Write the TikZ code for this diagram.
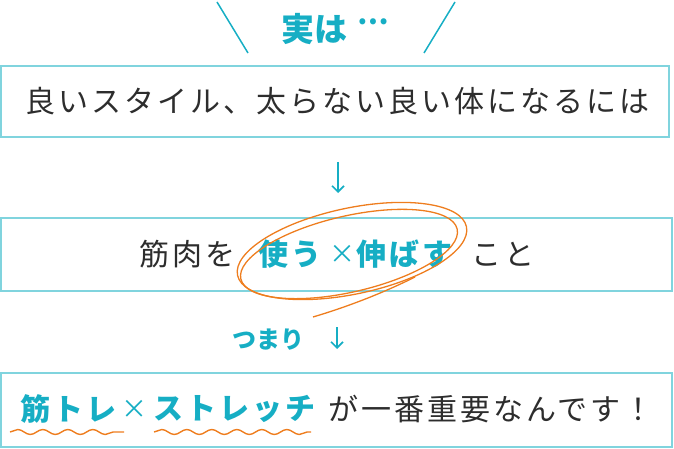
\documentclass[tikz,border=0pt]{standalone}
\usepackage{fontspec}
\usetikzlibrary{arrows.meta,decorations.pathmorphing}
\setmainfont{Noto Sans CJK JP}
\newfontfamily\jp[LetterSpace=10]{Noto Sans CJK JP}
\newfontfamily\jph{Noto Sans CJK JP}
\definecolor{boxc}{RGB}{128,212,222}
\definecolor{cyantx}{RGB}{22,174,196}
\definecolor{orng}{RGB}{238,125,30}
\definecolor{blk}{RGB}{45,45,45}
\begin{document}
\begin{tikzpicture}[x=1pt,y=-1pt,
  box/.style={draw=boxc, line width=2pt, inner sep=0pt},
  txt/.style={inner sep=0pt, anchor=west, text=blk, font=\jp\fontsize{30pt}{34pt}\selectfont},
  ctxt/.style={inner sep=0pt, anchor=west, text=cyantx, font=\jp\bfseries\fontsize{30pt}{34pt}\selectfont},
  cross/.style={inner sep=0pt, text=cyantx, font=\jph\fontsize{26pt}{30pt}\selectfont},
  hand/.style={inner sep=0pt, text=cyantx, font=\jph\bfseries\fontsize{33pt}{36pt}\selectfont},
  arr/.style={draw=cyantx, line width=1.6pt, -{Straight Barb[length=6pt,width=12pt,line width=1.6pt]}},
  wave/.style={draw=orng, line width=1.4pt, decorate, decoration={snake, segment length=25pt, amplitude=2.5pt}},
  loop/.style={draw=orng, line width=1.3pt}]
\useasboundingbox (0,0) rectangle (674,449);
% boxes
\node[box, minimum width=668pt, minimum height=71pt] (b1) at (335,101.5) {};
\node[box, minimum width=671pt, minimum height=73pt] (b2) at (336.5,254.5) {};
\node[box, minimum width=671pt, minimum height=74pt] (b3) at (336.5,410) {};
% top
\coordinate (l1a) at (217,2); \coordinate (l1b) at (248,53);
\coordinate (l2a) at (455,2); \coordinate (l2b) at (424,53);
\draw[draw=cyantx, line width=1.5pt] (l1a) -- (l1b);
\draw[draw=cyantx, line width=1.5pt] (l2a) -- (l2b);
\node[hand, anchor=base west] (jitsu) at (281,42) {実は\hspace{10pt}\raisebox{17pt}{\fontsize{28pt}{30pt}\selectfont …}};
% line 1
\node[txt] (t1) at (25,101) {良いスタイル、太らない良い体になるには};
% arrow 1
\coordinate (a1s) at (338,162); \coordinate (a1e) at (338,193);
\draw[arr] (a1s) -- (a1e);
% line 2
\node[txt] (t2a) at (139,254) {筋肉を};
\node[ctxt] (t2b) at (258,254) {使う};
\node[cross] (t2x) at (342,254) {×};
\node[ctxt] (t2d) at (356,254) {伸ばす};
\node[txt] (t2c) at (471,254) {こと};
% circle
\draw[loop, rotate around={12:(352,251)}] (352,251) ellipse [x radius=117, y radius=43];
\draw[loop, rotate around={13:(349,254)}] (349,254) ellipse [x radius=111, y radius=38];
\coordinate (tl1) at (313,317); \coordinate (tl2) at (415,277);
\draw[loop] (tl1) .. controls (350,306) and (385,292) .. (tl2);
% arrow 2
\node[hand, font=\jph\bfseries\fontsize{24pt}{28pt}\selectfont] (tsumari) at (268,340) {つまり};
\coordinate (a2s) at (337,327); \coordinate (a2e) at (337,349);
\draw[arr] (a2s) -- (a2e);
% line 3
\node[ctxt] (t3a) at (20,409) {筋トレ};
\node[cross] (t3x) at (134,409) {×};
\node[ctxt] (t3b) at (153,409) {ストレッチ};
\node[txt] (t3c) at (328,409) {が一番重要なんです！};
\coordinate (w1a) at (10,432); \coordinate (w1b) at (124,432);
\coordinate (w2a) at (154,432); \coordinate (w2b) at (311,432);
\draw[wave] (w1a) -- (w1b);
\draw[wave] (w2a) -- (w2b);
\end{tikzpicture}
\end{document}
